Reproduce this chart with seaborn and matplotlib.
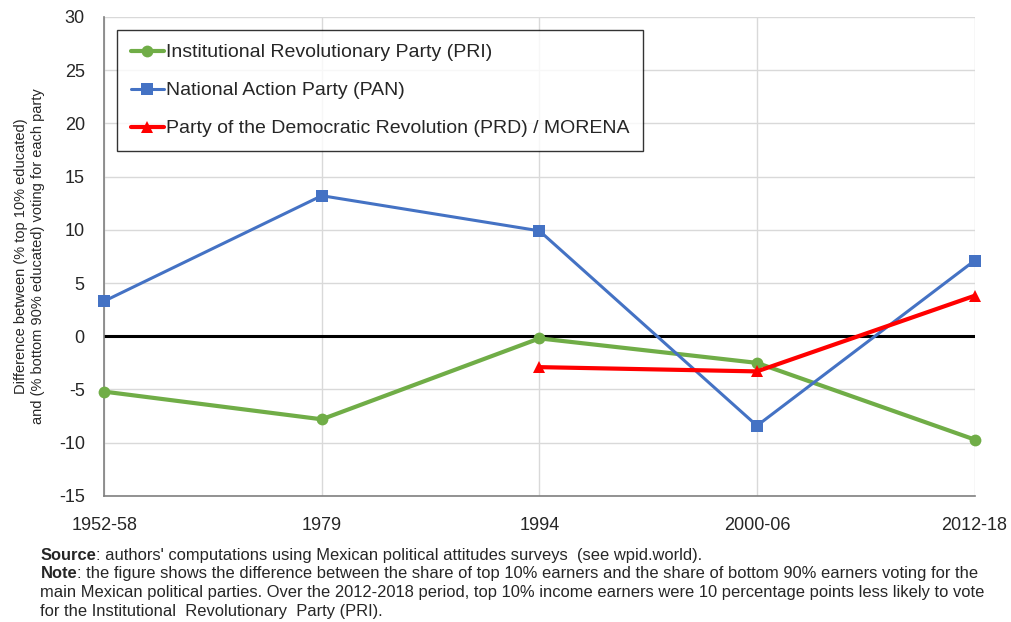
import numpy as np
import pandas as pd
import matplotlib
matplotlib.use("Agg")
import matplotlib.pyplot as plt
import seaborn as sns

# Data
periods = ["1952-58", "1979", "1994", "2000-06", "2012-18"]
pri = [-5.2, -7.8, -0.2, -2.5, -9.7]
pan = [3.3, 13.2, 9.9, -8.4, 7.1]
prd = [np.nan, np.nan, -2.9, -3.3, 3.8]

labels = ["Institutional Revolutionary Party (PRI)",
          "National Action Party (PAN)",
          "Party of the Democratic Revolution (PRD) / MORENA"]

df = pd.DataFrame({"period": periods, labels[0]: pri, labels[1]: pan, labels[2]: prd})
df["x"] = range(len(periods))
long = df.melt(id_vars=["period", "x"], var_name="party", value_name="diff").dropna()

sns.set_theme(style="white")
plt.rcParams["font.family"] = ["Liberation Sans", "DejaVu Sans"]
plt.rcParams["axes.unicode_minus"] = False

fig = plt.figure(figsize=(10.12, 6.22), dpi=100)
ax = fig.add_axes([0.103, 0.2026, 0.860, 0.7704])

palette = {labels[0]: "#70AD47", labels[1]: "#4472C4", labels[2]: "#FF0000"}
markers = {labels[0]: "o", labels[1]: "s", labels[2]: "^"}
widths = {labels[0]: 3.0, labels[1]: 2.2, labels[2]: 3.0}

for party in labels:
    sub = long[long["party"] == party]
    sns.lineplot(data=sub, x="x", y="diff", ax=ax, color=palette[party],
                 marker=markers[party], markersize=8.5, markeredgewidth=0,
                 linewidth=widths[party], label=party, zorder=3, clip_on=False)

ax.axhline(0, color="black", linewidth=2.2, zorder=2)

ax.set_xlim(0, len(periods) - 1)
ax.set_ylim(-15, 30)
ax.set_yticks(range(-15, 31, 5))
ax.set_xticks(range(len(periods)))
ax.set_xticklabels(periods, fontsize=13)
ax.tick_params(axis="y", labelsize=13, pad=14, length=0)
ax.tick_params(axis="x", pad=15, length=0)
ax.grid(True, color="#D9D9D9", linewidth=1)
ax.set_axisbelow(True)

for s in ["top", "right"]:
    ax.spines[s].set_visible(False)
for s in ["left", "bottom"]:
    ax.spines[s].set_color("#7F7F7F")
    ax.spines[s].set_linewidth(1.2)

ax.set_xlabel("")
ax.set_ylabel("Difference between (% top 10% educated)\nand (% bottom 90% educated) voting for each party",
              fontsize=10.5, labelpad=10, linespacing=1.3)

leg = ax.legend(loc="upper left", bbox_to_anchor=(0.015, 0.972), fontsize=14,
                frameon=True, fancybox=False, edgecolor="black",
                labelspacing=1.05, handlelength=1.7, handletextpad=0.1,
                borderpad=0.7, borderaxespad=0)
leg.get_frame().set_linewidth(1.0)

# Footnotes
fs = 11.9
t1 = fig.text(0.040, 0.100, "Source", fontsize=fs, fontweight="bold")
ax.annotate(": authors' computations using Mexican political attitudes surveys  (see wpid.world).",
            xy=(1, 0), xycoords=t1, fontsize=fs, va="bottom")
t2 = fig.text(0.040, 0.070, "Note", fontsize=fs, fontweight="bold")
ax.annotate(": the figure shows the difference between the share of top 10% earners and the share of bottom 90% earners voting for the",
            xy=(1, 0), xycoords=t2, fontsize=fs, va="bottom")
fig.text(0.040, 0.040, "main Mexican political parties. Over the 2012-2018 period, top 10% income earners were 10 percentage points less likely to vote",
         fontsize=fs)
fig.text(0.040, 0.010, "for the Institutional  Revolutionary  Party (PRI).", fontsize=fs)

fig.savefig("out.png", dpi=100)
